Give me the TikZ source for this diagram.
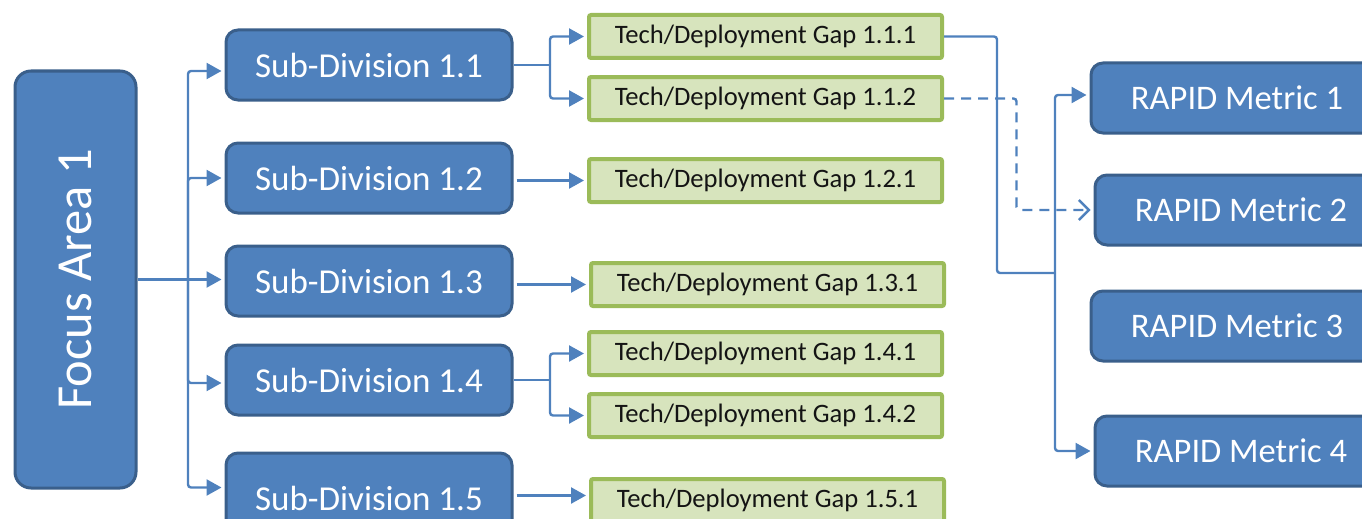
\documentclass[tikz,border=0pt]{standalone}
\usepackage{fontspec}
\setmainfont{Carlito}
\usetikzlibrary{arrows.meta,calc}
\definecolor{boxblue}{HTML}{4F81BD}
\definecolor{edgeblue}{HTML}{3A5F8B}
\definecolor{gapfill}{HTML}{D7E4BD}
\definecolor{gapedge}{HTML}{9BBB59}
\definecolor{gaptext}{HTML}{141414}
\begin{document}
\begin{tikzpicture}[x=1pt,y=-1pt,
  every node/.style={inner sep=0pt},
  bluebox/.style={draw=edgeblue, fill=boxblue, line width=3pt, rounded corners=12pt,
    text=white, anchor=north west},
  subbox/.style={bluebox, minimum width=286pt, minimum height=70pt,
    font=\fontsize{35}{35}\selectfont},
  metbox/.style={bluebox, minimum width=292pt, minimum height=70pt,
    font=\fontsize{34.5}{34.5}\selectfont},
  gapbox/.style={draw=gapedge, fill=gapfill, line width=4pt, rounded corners=2pt,
    anchor=north west, minimum width=353pt, minimum height=43pt,
    font=\fontsize{26.6}{26.6}\selectfont, text=gaptext},
  wire/.style={draw=boxblue, line width=2.4pt, rounded corners=3pt},
  link/.style={wire, -{Triangle[length=15pt,width=16pt]}, shorten >=3pt},
  dlink/.style={wire, dash pattern=on 10pt off 7pt,
    -{Straight Barb[length=10pt,width=20pt,line width=2.4pt]}, shorten >=3pt}]

\useasboundingbox (0,0) rectangle (1362,519);
\clip (0,0) rectangle (1362,519);

% focus area
\node[bluebox, rounded corners=16pt, minimum width=121pt, minimum height=417pt]
  (focus) at (13.5,69.5) {};
\node[rotate=90, text=white, font=\fontsize{50.5}{50.5}\selectfont]
  (focuslabel) at (focus.center) {Focus Area 1};

% sub-divisions
\node[subbox] (sub11) at (224.5,28.5)  {Sub-Division 1.1};
\node[subbox] (sub12) at (224.5,141.5) {Sub-Division 1.2};
\node[subbox] (sub13) at (224.5,244.5) {Sub-Division 1.3};
\node[subbox] (sub14) at (224.5,343.5) {Sub-Division 1.4};
\node[subbox, minimum height=91pt] (sub15) at (224.5,451.5) {Sub-Division 1.5};

% technology / deployment gaps
\node[gapbox] (gap111) at (587,13)  {Tech/Deployment Gap 1.1.1};
\node[gapbox] (gap112) at (587,75)  {Tech/Deployment Gap 1.1.2};
\node[gapbox] (gap121) at (587,157) {Tech/Deployment Gap 1.2.1};
\node[gapbox] (gap131) at (589,261) {Tech/Deployment Gap 1.3.1};
\node[gapbox] (gap141) at (587,330) {Tech/Deployment Gap 1.4.1};
\node[gapbox] (gap142) at (587,392) {Tech/Deployment Gap 1.4.2};
\node[gapbox] (gap151) at (589,477) {Tech/Deployment Gap 1.5.1};

% RAPID metrics
\node[metbox] (met1) at (1089.5,61.5)  {RAPID Metric 1};
\node[metbox] (met2) at (1093.5,173.5) {RAPID Metric 2};
\node[metbox] (met3) at (1089.5,289.5) {RAPID Metric 3};
\node[metbox] (met4) at (1093.5,414.5) {RAPID Metric 4};

% focus area -> sub-divisions
\coordinate (fork) at (188,280);
\draw[link] (focus.east) -- (focus.east -| sub13.west);
\draw[link] (fork) |- ([yshift=-6pt]sub11.west);
\draw[link] (fork) |- (sub12.west);
\draw[link] (fork) |- ([yshift=-3pt]sub14.west);
\draw[link] (fork) |- ([yshift=11pt]sub15.west);

% sub-divisions -> gaps
\coordinate (split) at (550,0);
\draw[wire] (sub11.east) -- (sub11.east -| split);
\draw[link] (sub11.east -| split) |- (gap111.west);
\draw[link] (sub11.east -| split) |- (gap112.west);
\draw[link] ([xshift=3pt]sub12.east |- gap121.west) -- (gap121.west);
\draw[link] ([xshift=3pt]sub13.east |- gap131.west) -- (gap131.west);
\draw[wire] (sub14.east) -- (sub14.east -| split);
\draw[link] (sub14.east -| split) |- (gap141.west);
\draw[link] (sub14.east -| split) |- (gap142.west);
\draw[link] ([xshift=3pt,yshift=5pt]sub15.east |- gap151.west) -- ([yshift=5pt]gap151.west);

% gaps -> metrics
\coordinate (hub) at (1055,273);
\draw[wire] (gap111.east) -| ($(hub)+(-58,0)$) -- (hub);
\draw[link] (hub) |- ([yshift=3pt]met1.west);
\draw[link] (hub) |- (met4.west);
\draw[dlink] (gap112.east) -| ($(met2.west)+(-77,0)$) -- (met2.west);
\end{tikzpicture}
\end{document}
